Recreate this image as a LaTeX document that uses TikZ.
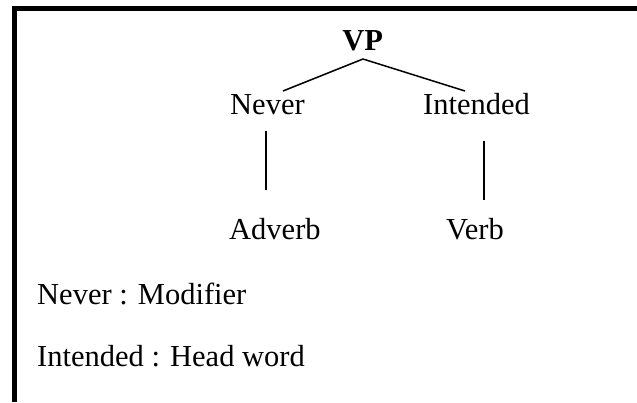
\documentclass[tikz,border=0pt]{standalone}
\usepackage{fontspec}
\setmainfont{Liberation Serif}
\begin{document}
\begin{tikzpicture}[x=1pt,y=-1pt,
  word/.style={inner sep=0pt,font=\fontsize{30.5}{36}\selectfont},
  frame/.style={line width=4.6pt,line join=miter},
  branch/.style={line width=1.5pt}]
\useasboundingbox (0,0) rectangle (637,402);
% open frame: left and top edges only
\draw[frame] (14.3,402) -- (14.3,8.7) -- (637,8.7);

% tree labels
\node[word,font=\fontsize{30.5}{36}\selectfont\bfseries,anchor=base] (vp) at (362.7,50.7) {VP};
\node[word,anchor=base west] (never) at (230,114) {Never};
\node[word,anchor=base west] (intended) at (423,114) {Intended};
\node[word,anchor=base west] (adverb) at (229,239) {Adverb};
\node[word,anchor=base west] (verb) at (446,239) {Verb};

% branch end points
\coordinate (vp-foot) at (363,59);
\coordinate (never-top) at (283,91);
\coordinate (intended-top) at (465,91);
\coordinate (never-foot) at (266,131);
\coordinate (adverb-top) at (266,190);
\coordinate (intended-foot) at (484,141);
\coordinate (verb-top) at (484,200);

\draw[branch] (vp-foot) -- (never-top);
\draw[branch] (vp-foot) -- (intended-top);
\draw[branch] (never-foot) -- (adverb-top);
\draw[branch] (intended-foot) -- (verb-top);

% legend
\node[word,anchor=base west] (mod) at (37,304) {Never : Modifier};
\node[word,anchor=base west] (head) at (37,366) {Intended : Head word};
\end{tikzpicture}
\end{document}
